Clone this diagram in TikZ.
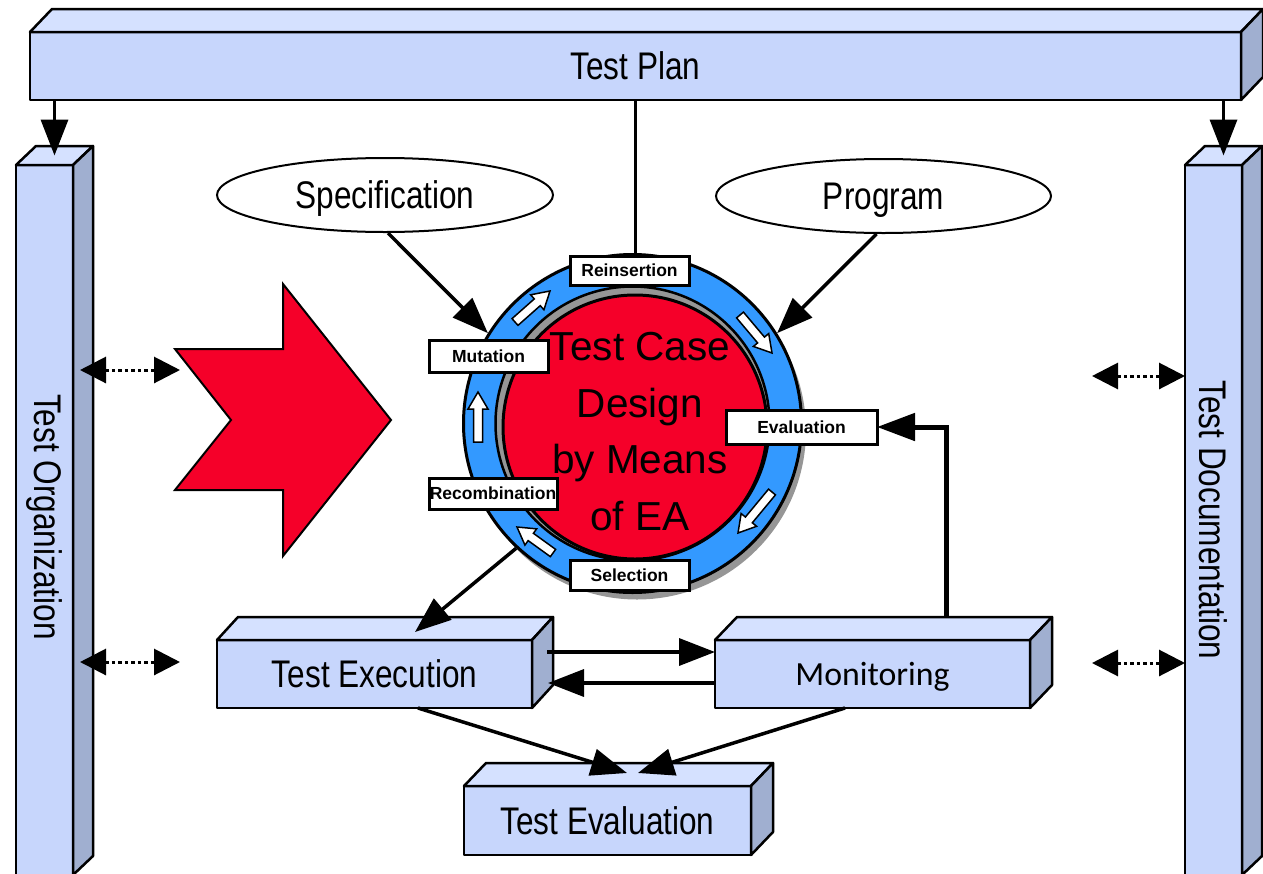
\documentclass[tikz,border=0pt]{standalone}
\usepackage{fontspec}
\setmainfont{Liberation Sans}
\newfontfamily\condfont[FakeStretch=0.82]{Liberation Sans}
\newfontfamily\calfont{Carlito}
\usetikzlibrary{arrows.meta,calc,shapes.geometric}

\definecolor{boxfront}{RGB}{199,214,252}
\definecolor{boxtop}{RGB}{213,225,255}
\definecolor{boxside}{RGB}{160,175,208}
\definecolor{ringblue}{RGB}{51,153,255}
\definecolor{corered}{RGB}{245,0,41}
\definecolor{shadowgray}{RGB}{150,150,150}

\tikzset{
  cuboid/.style={draw, line width=2.5pt, fill=boxfront, inner sep=0pt, outer sep=0pt, line join=round},
  topface/.style={draw, line width=2.5pt, fill=boxtop, line join=round},
  sideface/.style={draw, line width=2.5pt, fill=boxside, line join=round},
  boxtext/.style={font=\condfont\fontsize{38.5}{46}\selectfont},
  stagebox/.style={draw, line width=3pt, fill=white, inner sep=0pt, outer sep=0pt,
    font=\bfseries\fontsize{17.5}{21}\selectfont},
  srcellipse/.style={ellipse, draw, line width=2pt, fill=white, inner sep=0pt, text depth=0pt,
    font=\condfont\fontsize{38.5}{46}\selectfont},
  coretext/.style={anchor=base, inner sep=0pt, font=\fontsize{40.5}{48}\selectfont},
  bigarrow/.style={line width=3.5pt, -{Triangle[length=36pt,width=27pt]}},
  linkarrow/.style={line width=3pt, dash pattern=on 3.5pt off 3pt,
    {Triangle[length=26pt,width=26pt]}-{Triangle[length=26pt,width=26pt]}},
  ringarrowstyle/.style={draw, fill=white, line width=1.5pt, line join=miter},
}

% top and side faces of a cuboid whose front face is node #1, depth (#2 right, #3 up)
\newcommand\boxfaces[3]{%
  \draw[topface] (#1.north west) -- ++(#2,-#3) -- ($(#1.north east)+(#2,-#3)$) -- (#1.north east) -- cycle;
  \draw[sideface] (#1.north east) -- ++(#2,-#3) -- ($(#1.south east)+(#2,-#3)$) -- (#1.south east) -- cycle;}

% small white block arrow running along the ring, from tail #1 to tip #2
\newcommand\ringarrow[2]{%
  \coordinate (ra-h) at ($(#2)!17pt!(#1)$);
  \filldraw[ringarrowstyle] ($(#1)!4.5pt!90:(#2)$) -- ($(ra-h)!4.5pt!90:(#2)$) -- ($(ra-h)!10pt!90:(#2)$)
    -- (#2) -- ($(ra-h)!10pt!-90:(#2)$) -- ($(ra-h)!4.5pt!-90:(#2)$) -- ($(#1)!4.5pt!-90:(#2)$) -- cycle;}

\begin{document}
\begin{tikzpicture}[x=1pt,y=-1pt]
\useasboundingbox (0,0) rectangle (1263,873);

% frame boxes
\node[cuboid, minimum width=1211pt, minimum height=68pt, boxtext] (tp) at (635.5,66) {Test Plan};
\boxfaces{tp}{22}{23}
\node[cuboid, minimum width=57pt, minimum height=710pt] (org) at (44.5,520) {};
\boxfaces{org}{20}{19}
\node[boxtext, rotate=-90] (orgtext) at (44.5,517) {Test Organization};
\node[cuboid, minimum width=57pt, minimum height=710pt] (doc) at (1213.5,520) {};
\boxfaces{doc}{20}{19}
\node[boxtext, rotate=-90] (doctext) at (1213.5,520) {Test Documentation};

% Test Plan feeds the two side columns
\coordinate (orgtop) at ($(org.north)+(10,-9.5)$);
\coordinate (doctop) at ($(doc.north)+(10,-9.5)$);
\draw[bigarrow] (tp.south -| orgtop) -- (orgtop);
\draw[bigarrow] (tp.south -| doctop) -- (doctop);

% inputs
\node[srcellipse, minimum width=336pt, minimum height=74pt] (spec) at (385,195) {Specification};
\node[srcellipse, minimum width=335pt, minimum height=74pt] (prog) at (883.5,196) {Program};

% red chevron
\filldraw[fill=corered, draw=black, line width=2pt, line join=miter]
  (175,349) -- (283,349) -- (283,284) -- (391,420) -- (283,556) -- (283,490) -- (175,490) -- (231,420) -- cycle;

% evolutionary cycle
\fill[shadowgray] (637,430.5) circle[radius=169];
\node[circle, draw, line width=3pt, fill=ringblue, minimum size=338pt, inner sep=0pt] (ring) at (632.5,423.5) {};
\node[circle, draw, line width=2.5pt, fill=shadowgray, minimum size=274pt, inner sep=0pt] (hole) at (632.5,423.5) {};
\node[circle, draw, line width=3pt, fill=corered, minimum size=264pt, inner sep=0pt] (core) at (635,427) {};
\node[coretext] (core1) at (640,360) {Test Case};
\node[coretext] (core2) at (640,417) {Design};
\node[coretext] (core3) at (640,473) {by Means};
\node[coretext] (core4) at (640,530) {of EA};

\ringarrow{515,322}{550,291}
\ringarrow{740,315}{772,353}
\ringarrow{478,442}{478,392}
\ringarrow{772,492}{738,533}
\ringarrow{553,553}{517,527}

\node[stagebox, minimum width=119pt, minimum height=29pt] (reins) at (629.5,270.5) {Reinsertion};
\node[stagebox, minimum width=119pt, minimum height=32pt] (mut) at (488.5,356) {Mutation};
\node[stagebox, minimum width=151pt, minimum height=34pt] (eval) at (801.5,427) {Evaluation};
\node[stagebox, minimum width=128pt, minimum height=31pt] (recomb) at (493,493.5) {Recombination};
\node[stagebox, minimum width=119pt, minimum height=30pt] (sel) at (629.5,575) {Selection};

\draw[line width=3pt] (tp.south) -- (tp.south |- reins.north);
\draw[bigarrow] ($(spec.south)+(3,0)$) -- (ring.148.5);
\draw[bigarrow] ($(prog.south)+(-7,0)$) -- (ring.32);

% execution stage
\node[cuboid, minimum width=315pt, minimum height=68pt, boxtext] (exec) at (374.5,674) {Test Execution};
\boxfaces{exec}{21}{23}
\node[cuboid, minimum width=315pt, minimum height=68pt, text depth=0pt,
  font=\calfont\fontsize{33.8}{40}\selectfont] (mon) at (872.5,674) {Monitoring};
\boxfaces{mon}{22}{23}
\node[cuboid, minimum width=287pt, minimum height=69pt, boxtext] (teval) at (607.5,820.5) {Test Evaluation};
\boxfaces{teval}{22}{23}

\draw[bigarrow] (ring.227) -- ($(exec.north west)+(198,-8)$);
\coordinate (execout) at ($(exec.east)+(15,-22)$);
\coordinate (execin) at ($(exec.east)+(16,9)$);
\draw[bigarrow] (execout) -- (execout -| mon.west);
\draw[bigarrow] (execin -| mon.west) -- (execin);
\draw[bigarrow] ($(exec.south west)+(201,0)$) -- ($(teval.north west)+(163,-13)$);
\draw[bigarrow] ($(mon.south west)+(130,0)$) -- ($(teval.north west)+(174,-13)$);
\draw[line width=5pt, -{Triangle[length=38pt,width=27pt]}] ($(mon.north west)+(231,-23)$) |- (eval.east);

% links to the side columns
\coordinate (l1a) at (80,370);
\coordinate (l1b) at (180,370);
\coordinate (l2a) at (80,662);
\coordinate (l2b) at (180,662);
\coordinate (r1a) at (1092,376);
\coordinate (r1b) at (1185,376);
\coordinate (r2a) at (1092,663);
\coordinate (r2b) at (1185,663);
\draw[linkarrow] (l1a) -- (l1b);
\draw[linkarrow] (l2a) -- (l2b);
\draw[linkarrow] (r1a) -- (r1b);
\draw[linkarrow] (r2a) -- (r2b);
\end{tikzpicture}
\end{document}
